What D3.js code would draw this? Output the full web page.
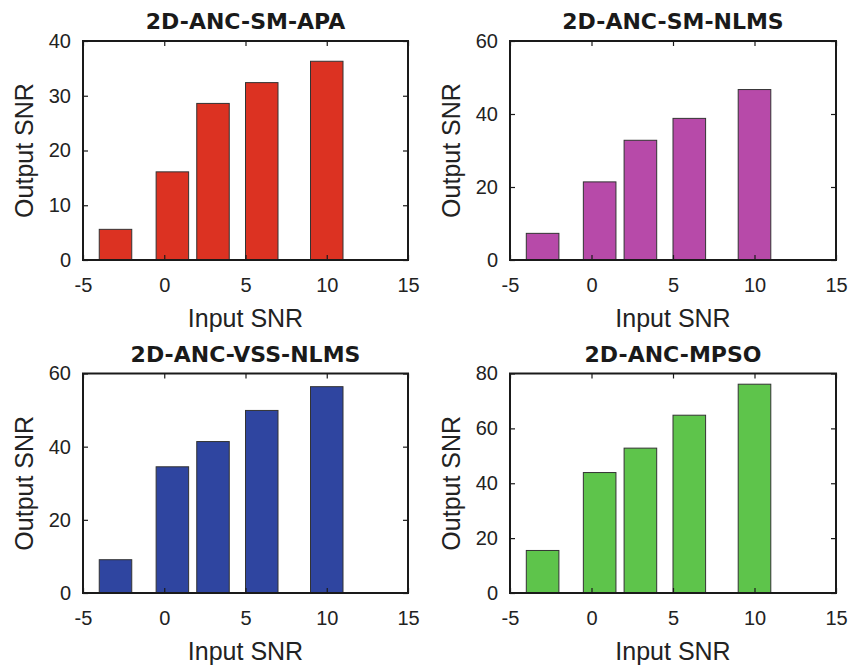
<!DOCTYPE html>
<html>
<head>
<meta charset="utf-8">
<script src="https://cdn.jsdelivr.net/npm/d3@7"></script>
<style>
  body { margin: 0; background: #fff; }
  svg { font-family: "Liberation Sans", Arial, sans-serif; }
  .tick text { font-size: 20px; fill: #222; }
</style>
</head>
<body>
<svg id="chart" width="861" height="669"></svg>
<script>
// input SNR values (bar centers)
var inputSnr = [-3, 0.5, 3, 6, 10];

// output SNR per method
var apa = [5.6, 16.1, 28.6, 32.4, 36.3];
var smNlms = [7.3, 21.4, 32.8, 38.8, 46.7];
var vssNlms = [9.1, 34.5, 41.4, 49.9, 56.4];
var mpso = [15.5, 43.9, 52.8, 64.8, 76.1];

var titles = ["2D-ANC-SM-APA", "2D-ANC-SM-NLMS", "2D-ANC-VSS-NLMS", "2D-ANC-MPSO"];
var yMax = [40, 60, 60, 80];
var yStep = [10, 20, 20, 20];
var xTicks = [-5, 0, 5, 10, 15];
var colors = ["#dc3222", "#b74aa9", "#2f45a0", "#5ec44b"];

var series = [apa, smNlms, vssNlms, mpso];

// panel boxes (left, top, right, bottom)
var panels = [
  [83, 41, 408, 260],
  [510, 41, 836, 260],
  [83, 373.5, 408, 593],
  [510, 373.5, 836, 593]
];

var svg = d3.select("#chart");
var plain = function(d) { return String(d); };

panels.forEach(function(p, k) {
  var w = p[2] - p[0], h = p[3] - p[1];
  var g = svg.append("g").attr("transform", "translate(" + p[0] + "," + p[1] + ")");

  var x = d3.scaleLinear().domain([-5, 15]).range([0, w]);
  var y = d3.scaleLinear().domain([0, yMax[k]]).range([h, 0]);
  var yTicks = d3.range(0, yMax[k] + 0.1, yStep[k]);

  // bars, width 0.8 * min spacing
  var bw = 2;
  g.selectAll(".bar")
    .data(series[k])
    .enter()
    .append("rect")
    .attr("x", function(d, i) { return x(inputSnr[i] - bw / 2); })
    .attr("width", x(bw) - x(0))
    .attr("y", function(d) { return y(d); })
    .attr("height", function(d) { return h - y(d); })
    .attr("fill", colors[k])
    .attr("stroke", "#333")
    .attr("stroke-width", 1);

  // axes with inward ticks
  var xb = g.append("g").attr("transform", "translate(0," + h + ")")
    .call(d3.axisBottom(x).tickValues(xTicks).tickSizeInner(-5).tickSizeOuter(0).tickFormat(plain));
  var xt = g.append("g")
    .call(d3.axisTop(x).tickValues(xTicks).tickSizeInner(-5).tickSizeOuter(0).tickFormat(""));
  var yl = g.append("g")
    .call(d3.axisLeft(y).tickValues(yTicks).tickSizeInner(-5).tickSizeOuter(0).tickPadding(12).tickFormat(plain));
  var yr = g.append("g").attr("transform", "translate(" + w + ",0)")
    .call(d3.axisRight(y).tickValues(yTicks).tickSizeInner(-5).tickSizeOuter(0).tickFormat(""));

  [xb, xt, yl, yr].forEach(function(a) {
    a.select(".domain").remove();
    a.selectAll(".tick line").attr("stroke", "#1a1a1a").attr("stroke-width", 1.2);
  });
  xb.selectAll(".tick text").attr("dy", "0.71em").attr("y", 18);

  // box
  g.append("rect")
    .attr("width", w).attr("height", h)
    .attr("fill", "none")
    .attr("stroke", "#1a1a1a")
    .attr("stroke-width", 2);

  // title
  g.append("text")
    .attr("x", w / 2).attr("y", -12)
    .attr("text-anchor", "middle")
    .style("font-family", "'DejaVu Sans', sans-serif")
    .style("font-size", "22px").style("font-weight", "bold").style("fill", "#1a1a1a")
    .text(titles[k]);

  // x label
  g.append("text")
    .attr("x", w / 2).attr("y", h + 67)
    .attr("text-anchor", "middle")
    .style("font-size", "25px").style("fill", "#222")
    .text("Input SNR");

  // y label
  g.append("text")
    .attr("transform", "rotate(-90)")
    .attr("x", -h / 2).attr("y", -50)
    .attr("text-anchor", "middle")
    .style("font-size", "25px").style("fill", "#222")
    .text("Output SNR");
});
</script>
</body>
</html>
